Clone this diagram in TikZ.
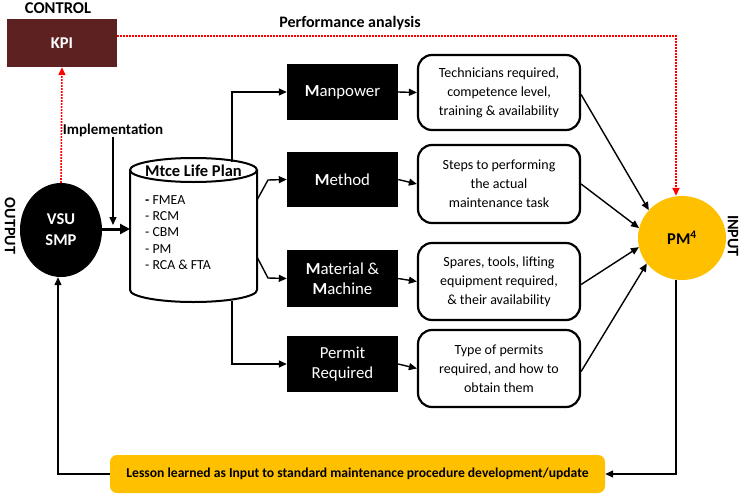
\documentclass[tikz,border=0pt]{standalone}
\usepackage{fontspec}
\setmainfont{Carlito}
\usetikzlibrary{arrows.meta,shapes.geometric,calc}
\definecolor{kpired}{RGB}{94,33,33}
\definecolor{pmyellow}{RGB}{255,192,0}
\begin{document}
\begin{tikzpicture}[x=1pt,y=-1pt,
  blk/.style={draw=black, line width=1.4pt, -{Triangle[length=8pt,width=7pt]}},
  reddot/.style={draw=red, line width=1.6pt, dash pattern=on 1.6pt off 1.4pt, -{Triangle[length=8pt,width=7pt]}},
  blackbox/.style={rectangle, fill=black, minimum width=111pt, text=white, align=center, inner sep=0pt, font=\fontsize{16.8}{20}\selectfont},
  roundbox/.style={rectangle, rounded corners=14pt, draw=black, line width=2.2pt, fill=white, minimum width=162pt, align=center, inner sep=0pt, font=\fontsize{14}{19}\selectfont},
  lbl/.style={font=\bfseries\fontsize{16}{19}\selectfont, inner sep=0pt}
]
\useasboundingbox (0,0) rectangle (747,498);

% control / KPI
\node[lbl, font=\bfseries\fontsize{16.5}{19}\selectfont] (control) at (58,8) {CONTROL};
\node[rectangle, fill=kpired, minimum width=110pt, minimum height=48pt, inner sep=0pt, text=white, font=\bfseries\fontsize{16.5}{19}\selectfont] (kpi) at (62,43) {KPI};
\node[lbl] (perf) at (350,23) {Performance analysis};
\node[lbl, font=\bfseries\fontsize{15}{18}\selectfont] (impl) at (113,130) {Implementation};

% VSU SMP
\node[ellipse, fill=black, minimum width=82pt, minimum height=94pt, inner sep=0pt, text=white, align=center, font=\bfseries\fontsize{16.5}{21}\selectfont] (vsu) at (61,230) {VSU\\SMP};
\node[lbl, rotate=-90] (output) at (10,226) {OUTPUT};

% cylinder
\draw[line width=2pt, fill=white] (130,170) -- (130,290) arc[start angle=180, end angle=360, x radius=63.5pt, y radius=12pt] -- (257,170);
\draw[line width=2pt] (193.5,170) ellipse[x radius=63.5pt, y radius=12pt];
\node[font=\bfseries\fontsize{16.5}{19}\selectfont, inner sep=0pt] (plan) at (193.5,171) {Mtce Life Plan};
\node[anchor=north west, align=left, inner sep=0pt, font=\fontsize{13.8}{16.4}\selectfont] (list) at (145,195) {\textbf{-} FMEA\\- RCM\\- CBM\\- PM\\- RCA \& FTA};
\coordinate (cylW) at (130,229);
\coordinate (cylTop) at (232,162);
\coordinate (cylBot) at (232,301);
\coordinate (cylR1) at (257,200);
\coordinate (cylR2) at (257,257);
\coordinate (b1) at (268,180);
\coordinate (b2) at (268,278);
\coordinate (implEnd) at (113,225);

% black boxes
\node[blackbox, minimum height=56pt] (mp) at (342.5,92) {\textbf{M}anpower};
\node[blackbox, minimum height=55pt] (me) at (342.5,179.5) {\textbf{M}ethod};
\node[blackbox, minimum height=57pt] (mm) at (342.5,278.5) {\textbf{M}aterial \&\\\textbf{M}achine};
\node[blackbox, minimum height=56pt] (pr) at (342.5,364) {Permit\\Required};

% rounded boxes
\node[roundbox, minimum height=75pt] (t1) at (499,92.5) {Technicians required,\\competence level,\\training \& availability};
\node[roundbox, minimum height=78pt] (t2) at (499,184) {Steps to performing\\the actual\\maintenance task};
\node[roundbox, minimum height=77pt] (t3) at (499,281.5) {Spares, tools, lifting\\equipment required,\\\& their availability};
\node[roundbox, minimum height=77pt] (t4) at (499,368.5) {Type of permits\\required, and how to\\obtain them};

% PM4
\node[ellipse, fill=pmyellow, minimum width=88pt, minimum height=84pt, inner sep=0pt, font=\bfseries\fontsize{16.5}{19}\selectfont] (pm4) at (682,238) {PM\textsuperscript{4}};
\node[lbl, rotate=-90] (input) at (733,236) {INPUT};

% lesson
\node[rectangle, rounded corners=7pt, fill=pmyellow, minimum width=495pt, minimum height=38pt, inner sep=0pt, font=\bfseries\fontsize{13.6}{15}\selectfont] (lesson) at (357.5,474) {Lesson learned as Input to standard maintenance procedure development/update};

% red dotted connectors
\draw[reddot] ([yshift=7pt]kpi.east) -| ([xshift=-6pt]pm4.north);
\draw[reddot] (vsu.north) -- (kpi.south);

% black connectors
\draw[blk] (impl.south) -- (implEnd);
\draw[blk, line width=3pt, -{Triangle[length=10pt,width=10pt]}] (vsu.east |- cylW) -- (cylW);
\draw[blk] (cylTop) |- (mp.west);
\draw[blk] (cylBot) |- (pr.west);
\draw[blk] (cylR1) -- (b1) -- (me.west);
\draw[blk] (cylR2) -- (b2) -- (mm.west);
\draw[blk] (mp.east) -- (t1.west);
\draw[blk] (me.east) -- (t2.west);
\draw[blk] (mm.east) -- (t3.west);
\draw[blk] (pr.east) -- (t4.west);
\draw[blk] ([yshift=-2pt]t1.east) -- (pm4.140);
\draw[blk] (t2.east) -- (pm4.167);
\draw[blk] ([yshift=-3pt]t3.east) -- (pm4.192);
\draw[blk] ([yshift=-3pt]t4.east) -- (pm4.216);
\draw[blk] ([xshift=-6pt]pm4.south) |- (lesson.east);
\draw[blk] (lesson.west) -| ([xshift=-3pt]vsu.south);
\end{tikzpicture}
\end{document}
